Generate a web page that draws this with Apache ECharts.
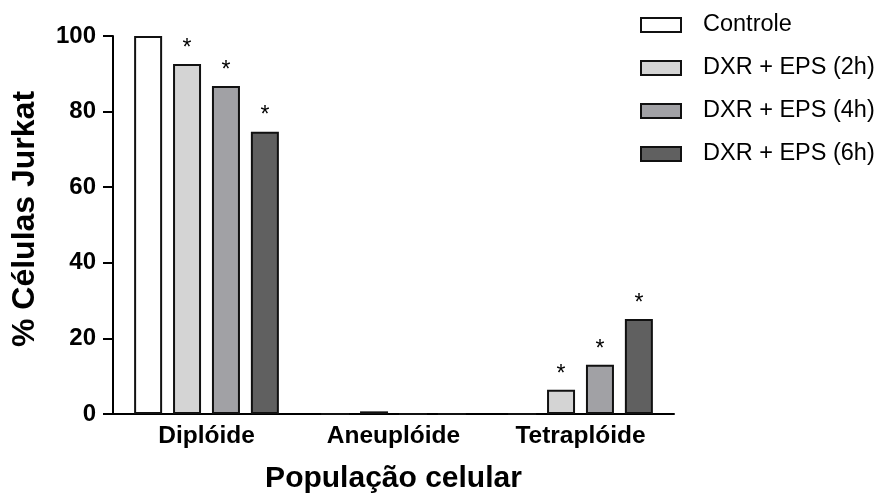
<!DOCTYPE html>
<html>
<head>
<meta charset="utf-8">
<script src="https://cdn.jsdelivr.net/npm/echarts@6/dist/echarts.min.js"></script>
<style>html,body{margin:0;padding:0;background:#fff;}#c{width:881px;height:499px;}</style>
</head>
<body>
<div id="c"></div>
<script>
var categories = ['Diplóide', 'Aneuplóide', 'Tetraplóide'];
var seriesNames = ['Controle', 'DXR + EPS (2h)', 'DXR + EPS (4h)', 'DXR + EPS (6h)'];
var controle = [100, 0, 0];
var eps2h = [92.6, 0.7, 6.4];
var eps4h = [86.8, 0, 13.0];
var eps6h = [74.7, 0, 25.1];
var sig2h = [true, false, true];
var sig4h = [true, false, true];
var sig6h = [true, false, true];
var sigControle = [false, false, false];
var yTicks = [0, 20, 40, 60, 80, 100];
var colors = ['#ffffff', '#d4d4d4', '#a1a1a5', '#606060'];

var values = [controle, eps2h, eps4h, eps6h];
var sigs = [sigControle, sig2h, sig4h, sig6h];
var font = 'Liberation Sans, Arial, sans-serif';

var series = values.map(function (vals, si) {
  return {
    name: seriesNames[si],
    type: 'bar',
    barWidth: 28,
    barGap: '39%',
    itemStyle: { color: colors[si], borderColor: '#111', borderWidth: 2 },
    data: vals.map(function (v, i) {
      return {
        value: v,
        label: {
          show: sigs[si][i],
          position: 'top',
          distance: 4,
          formatter: '*',
          fontSize: 23,
          lineHeight: 23,
          fontFamily: font,
          color: '#000'
        }
      };
    })
  };
});

var chart = echarts.init(document.getElementById('c'));
chart.setOption({
  animation: false,
  backgroundColor: '#fff',
  grid: { left: 113, right: 207, top: 36, bottom: 83, containLabel: false },
  legend: {
    orient: 'vertical',
    left: 635,
    top: 8,
    itemWidth: 40,
    itemHeight: 14,
    itemGap: 19,
    icon: 'rect',
    textStyle: { fontSize: 23.5, lineHeight: 24, fontFamily: font, color: '#000', padding: [0, 0, 0, 17] },
    data: seriesNames
  },
  xAxis: {
    type: 'category',
    data: categories,
    name: 'População celular',
    nameLocation: 'middle',
    nameGap: 50,
    nameTextStyle: { fontSize: 30, lineHeight: 30, fontWeight: 'bold', fontFamily: font, color: '#000' },
    axisLine: { lineStyle: { color: '#000', width: 2 } },
    axisTick: { alignWithLabel: true, length: 8, lineStyle: { color: '#000', width: 2 } },
    axisLabel: { fontSize: 24.5, lineHeight: 24, fontWeight: 'bold', fontFamily: font, color: '#000', margin: 10 }
  },
  yAxis: {
    type: 'value',
    min: yTicks[0],
    max: yTicks[yTicks.length - 1],
    interval: 20,
    name: '% Células Jurkat',
    nameLocation: 'middle',
    nameGap: 72,
    nameTextStyle: { fontSize: 32, lineHeight: 32, fontWeight: 'bold', fontFamily: font, color: '#000', padding: [0, 0, 0, 12] },
    splitLine: { show: false },
    axisLine: { show: true, lineStyle: { color: '#000', width: 2 } },
    axisTick: { show: true, length: 10, lineStyle: { color: '#000', width: 2 } },
    axisLabel: { fontSize: 24, fontWeight: 'bold', fontFamily: font, color: '#000', margin: 17 }
  },
  series: series
});
</script>
</body>
</html>
